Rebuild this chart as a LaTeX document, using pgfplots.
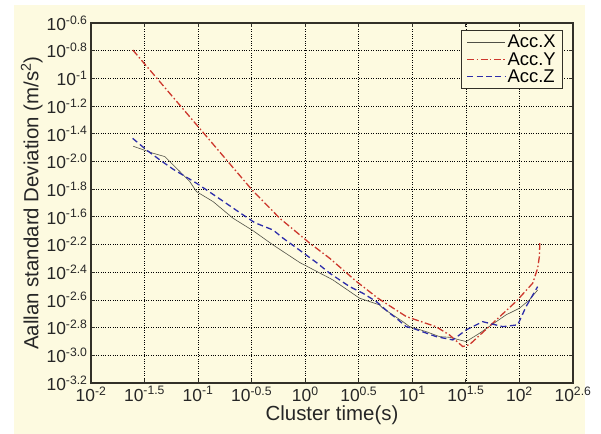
\documentclass[border=0pt]{standalone}
\usepackage{fontspec}
\setmainfont{Liberation Sans}
\usepackage{pgfplots}
\pgfplotsset{compat=1.18}
\definecolor{cream}{RGB}{253,250,224}
\definecolor{frame}{RGB}{50,48,40}
\definecolor{accx}{RGB}{80,80,70}
\definecolor{accy}{RGB}{205,55,45}
\definecolor{accz}{RGB}{45,45,170}
\newcommand{\tl}[1]{{\fontsize{17.5}{18}\selectfont 10\textsuperscript{#1}}}
\newcommand{\legtxt}[1]{{\fontsize{18.5}{20}\selectfont #1}}
\begin{document}
\begin{tikzpicture}
\fill[cream] (-77bp,-51bp) rectangle (494bp,378bp);
\begin{axis}[
  name=ax,
  at={(0,0)}, anchor=south west,
  scale only axis, width=482bp, height=360bp,
  xmin=-2, xmax=2.5, ymin=-3.2, ymax=-0.6,
  axis background/.style={fill=cream},
  axis line style={frame, line width=1.3pt},
  xtick={-2,-1.5,-1,-0.5,0,0.5,1,1.5,2,2.5},
  xticklabels={\tl{-2},\tl{-1.5},\tl{-1},\tl{-0.5},\tl{0},\tl{0.5},\tl{1},\tl{1.5},\tl{2},\tl{2.6}},
  ytick={-3.2,-3.0,-2.8,-2.6,-2.4,-2.2,-2.0,-1.8,-1.6,-1.4,-1.2,-1.0,-0.8,-0.6},
  yticklabels={\tl{-3.2},\tl{-3.0},\tl{-2.8},\tl{-2.6},\tl{-2.4},\tl{-2.2},\tl{-1.6},\tl{-1.8},\tl{-2.0},\tl{-1.4},\tl{-1.2},\tl{-1},\tl{-0.8},\tl{-0.6}},
  tick align=inside, major tick length=4bp,
  tick style={frame, line width=0.8pt},
  tick label style={text=black!85},
  xticklabel style={yshift=0bp},
  yticklabel style={xshift=0bp},
  grid=major,
  major grid style={black, dotted, line width=0.7pt},
  xlabel={Cluster time(s)},
  ylabel={Aallan standard Deviation (m/s\textsuperscript{2})},
  xlabel style={font=\fontsize{20.5}{22}\selectfont, text=black!85, yshift=3bp},
  ylabel style={font=\fontsize{20.5}{22}\selectfont, text=black!85, yshift=-3bp},
  legend style={at={(1,1)}, anchor=north east, xshift=-10bp, yshift=-7bp,
    draw=frame, line width=0.6pt, fill=cream,
    row sep=-1bp, inner xsep=5bp, inner ysep=3bp},
  legend cell align=left,
  legend image post style={line width=1pt},
  legend image code/.code={\draw[#1] (0bp,0bp) -- (38bp,0bp);},
]
\addplot[accx, line width=0.6pt] coordinates {
(-1.606,-1.490) (-1.419,-1.541) (-1.310,-1.565) (-1.248,-1.613) (-1.170,-1.673)
(-1.077,-1.746) (-1.015,-1.818) (-0.860,-1.890) (-0.674,-2.010) (-0.487,-2.100)
(-0.300,-2.203) (-0.051,-2.330) (0.228,-2.443) (0.259,-2.456) (0.508,-2.588)
(0.694,-2.636) (0.725,-2.660) (0.912,-2.757) (0.974,-2.793) (1.129,-2.829)
(1.254,-2.865) (1.347,-2.870) (1.502,-2.901) (1.627,-2.841) (1.875,-2.708)
(2.000,-2.660) (2.093,-2.600) (2.170,-2.528)
};
\addlegendentry{\legtxt{Acc.X}}
\addplot[accy, line width=1.3pt, dash pattern=on 7pt off 2.5pt on 1.5pt off 2.5pt] coordinates {
(-1.610,-0.795) (-1.009,-1.340) (-0.496,-1.806) (-0.238,-2.010) (0.042,-2.190)
(0.228,-2.299) (0.477,-2.466) (0.679,-2.588) (0.943,-2.720) (1.220,-2.793)
(1.347,-2.853) (1.471,-2.937) (1.534,-2.923) (1.720,-2.790) (1.970,-2.610)
(2.124,-2.479) (2.170,-2.371) (2.186,-2.287) (2.190,-2.190)
};
\addlegendentry{\legtxt{Acc.Y}}
\addplot[accz, line width=1.3pt, dash pattern=on 6pt off 3.5pt] coordinates {
(-1.611,-1.433) (-1.482,-1.517) (-1.357,-1.589) (-1.233,-1.656) (-1.015,-1.757)
(-0.829,-1.854) (-0.580,-1.986) (-0.471,-2.042) (-0.300,-2.095) (-0.207,-2.154)
(-0.098,-2.215) (0.105,-2.330) (0.228,-2.407) (0.415,-2.504) (0.539,-2.552)
(0.664,-2.612) (0.788,-2.696) (0.850,-2.732) (0.943,-2.793) (1.005,-2.805)
(1.223,-2.865) (1.378,-2.889) (1.502,-2.817) (1.657,-2.757) (1.844,-2.793)
(1.984,-2.780) (2.062,-2.648) (2.170,-2.504)
};
\addlegendentry{\legtxt{Acc.Z}}
\end{axis}
\pgfresetboundingbox
\path[use as bounding box] (-91bp,-51bp) rectangle (510bp,383bp);
\end{tikzpicture}
\end{document}
